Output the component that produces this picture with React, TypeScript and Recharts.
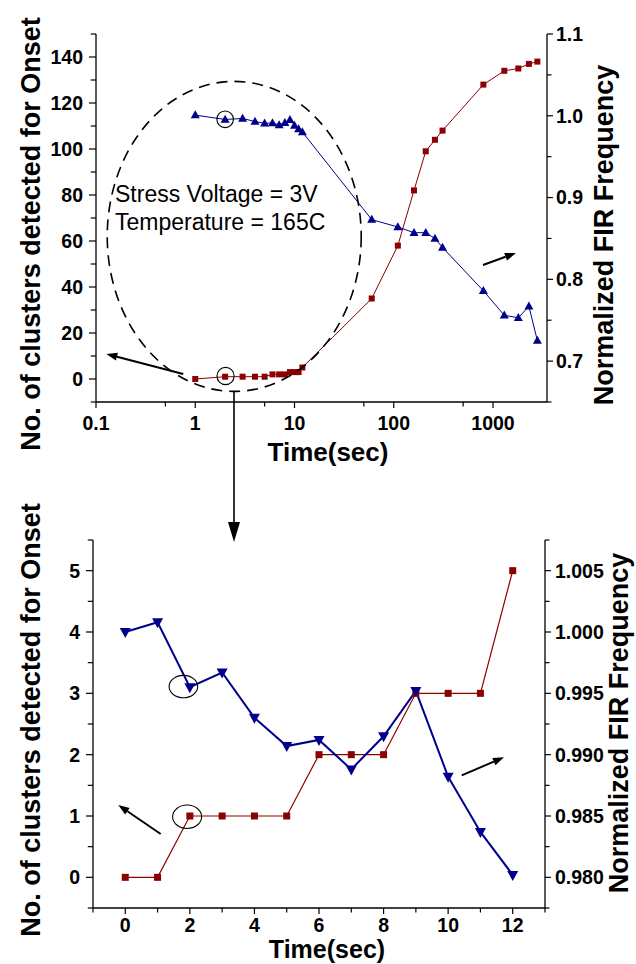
import { ComposedChart, Line, XAxis, YAxis, ReferenceDot, ReferenceLine } from 'recharts';

// first 13 s (also the zoomed bottom panel)
const earlyTime = [0, 1, 2, 3, 4, 5, 6, 7, 8, 9, 10, 11, 12];
const earlyClusters = [0, 0, 1, 1, 1, 1, 2, 2, 2, 3, 3, 3, 5];
const earlyFreq = [1.0, 1.0008, 0.9955, 0.9967, 0.993, 0.9907, 0.9912, 0.9888, 0.9915, 0.9952, 0.9882, 0.9837, 0.9802];

// long-time points, top panel only
const lateTime = [60, 110, 160, 210, 260, 310, 800, 1300, 1800, 2300, 2800];
const lateClusters = [35, 58, 82, 99, 104, 108, 128, 134, 135, 137, 138];
const lateFreq = [0.873, 0.864, 0.857, 0.857, 0.85, 0.839, 0.786, 0.756, 0.753, 0.767, 0.725];

const topXMajor = [0.1, 1, 10, 100, 1000];
const topXMinor = [0.5, 5, 50, 500];
const topLeftMajor = [0, 20, 40, 60, 80, 100, 120, 140];
const topLeftMinor = [-10, 10, 30, 50, 70, 90, 110, 130, 150];
const topRightMajor = [0.7, 0.8, 0.9, 1.0, 1.1];
const topRightMinor = [0.65, 0.75, 0.85, 0.95, 1.05];

const botXMajor = [0, 2, 4, 6, 8, 10, 12];
const botXMinor = [-1, 1, 3, 5, 7, 9, 11, 13];
const botLeftMajor = [0, 1, 2, 3, 4, 5];
const botLeftMinor = [-0.5, 0.5, 1.5, 2.5, 3.5, 4.5, 5.5];
const botRightMajor = [0.98, 0.985, 0.99, 0.995, 1.0, 1.005];
const botRightMinor = [0.9775, 0.9825, 0.9875, 0.9925, 0.9975, 1.0025, 1.0075];

const topData = [
  ...earlyTime.slice(1).map((t, i) => ({ t, clusters: earlyClusters[i + 1], freq: earlyFreq[i + 1] })),
  ...lateTime.map((t, i) => ({ t, clusters: lateClusters[i], freq: lateFreq[i] })),
];
const bottomData = earlyTime.map((t, i) => ({ t, clusters: earlyClusters[i], freq: earlyFreq[i] }));

const FONT = '"Liberation Sans", Arial, sans-serif';
const RED = '#8b0000';
const BLUE = '#00008b';
const axisStyle = { stroke: '#000', strokeWidth: 1.3 };

const sortNums = (a: number[], b: number[]) => [...a, ...b].sort((p, q) => p - q);
const isIn = (arr: number[], v: number) => arr.some((m) => Math.abs(m - v) < 1e-9);

function makeTick(side: 'left' | 'right' | 'bottom', major: number[], fmt: (v: number) => string, size: number, margin: number) {
  return (props: any) => {
    const { x, y, payload } = props;
    const v = payload.value;
    const isMajor = isIn(major, v);
    const len = isMajor ? size : size * 0.75;
    const txt = { fontFamily: FONT, fontWeight: 700, fontSize: 19.5, fill: '#000' };
    if (side === 'left') {
      const ax = x + margin + size;
      return (
        <g>
          <line x1={ax - len} x2={ax} y1={y} y2={y} stroke="#000" strokeWidth={1.2} />
          {isMajor && <text x={x} y={y} dy="0.355em" textAnchor="end" {...txt}>{fmt(v)}</text>}
        </g>
      );
    }
    if (side === 'right') {
      const ax = x - margin - size;
      return (
        <g>
          <line x1={ax} x2={ax + len} y1={y} y2={y} stroke="#000" strokeWidth={1.2} />
          {isMajor && <text x={x} y={y} dy="0.355em" textAnchor="start" {...txt}>{fmt(v)}</text>}
        </g>
      );
    }
    const ay = y - margin - size;
    return (
      <g>
        <line x1={x} x2={x} y1={ay} y2={ay + len} stroke="#000" strokeWidth={1.2} />
        {isMajor && <text x={x} y={y} dy="0.71em" textAnchor="middle" {...txt}>{fmt(v)}</text>}
      </g>
    );
  };
}

const squareDot = (s: number) => (p: any) => (
  <rect key={`sq-${p.index}`} x={p.cx - s / 2} y={p.cy - s / 2} width={s} height={s} fill={RED} />
);
const triUp = (w: number, h: number) => (p: any) => (
  <polygon
    key={`tu-${p.index}`}
    points={`${p.cx},${p.cy - h * 0.6} ${p.cx - w / 2},${p.cy + h * 0.4} ${p.cx + w / 2},${p.cy + h * 0.4}`}
    fill={BLUE}
  />
);
const triDown = (w: number, h: number) => (p: any) => (
  <polygon
    key={`td-${p.index}`}
    points={`${p.cx},${p.cy + h * 0.6} ${p.cx - w / 2},${p.cy - h * 0.4} ${p.cx + w / 2},${p.cy - h * 0.4}`}
    fill={BLUE}
  />
);

const arrowShape = (p: any) => {
  const { x1, y1, x2, y2 } = p;
  const a = Math.atan2(y2 - y1, x2 - x1);
  const L = 11;
  const W = 4;
  const bx = x2 - L * Math.cos(a);
  const by = y2 - L * Math.sin(a);
  const px = -Math.sin(a) * W;
  const py = Math.cos(a) * W;
  return (
    <g>
      <line x1={x1} y1={y1} x2={bx} y2={by} stroke="#000" strokeWidth={2} />
      <polygon points={`${x2},${y2} ${bx + px},${by + py} ${bx - px},${by - py}`} fill="#000" />
    </g>
  );
};

const ellipseShape = (rx: number, ry: number, dashed: boolean) => (p: any) => (
  <ellipse
    cx={p.cx}
    cy={p.cy}
    rx={rx}
    ry={ry}
    fill="none"
    stroke="#000"
    strokeWidth={dashed ? 1.6 : 1.1}
    strokeDasharray={dashed ? '11 7' : undefined}
  />
);

function TopChart() {
  return (
    <ComposedChart width={636} height={460} data={topData} margin={{ top: 34, right: 29, bottom: 0, left: 36 }}>
      <XAxis
        dataKey="t"
        type="number"
        scale="log"
        domain={[0.1, 3500]}
        allowDataOverflow
        ticks={sortNums(topXMajor, topXMinor)}
        interval={0}
        height={58}
        axisLine={axisStyle}
        tickLine={false}
        tickSize={6}
        tickMargin={8}
        tick={makeTick('bottom', topXMajor, (v) => String(v), 6, 8)}
      />
      <YAxis
        yAxisId="left"
        type="number"
        domain={[-10, 150]}
        allowDataOverflow
        ticks={sortNums(topLeftMajor, topLeftMinor)}
        interval={0}
        width={60}
        axisLine={axisStyle}
        tickLine={false}
        tickSize={7}
        tickMargin={6}
        tick={makeTick('left', topLeftMajor, (v) => String(v), 7, 6)}
      />
      <YAxis
        yAxisId="right"
        orientation="right"
        type="number"
        domain={[0.65, 1.1]}
        allowDataOverflow
        ticks={sortNums(topRightMajor, topRightMinor)}
        interval={0}
        width={60}
        axisLine={axisStyle}
        tickLine={false}
        tickSize={6}
        tickMargin={3}
        tick={makeTick('right', topRightMajor, (v) => v.toFixed(1), 6, 3)}
      />
      <Line yAxisId="left" dataKey="clusters" type="linear" stroke={RED} strokeWidth={1} dot={squareDot(6)} activeDot={false} isAnimationActive={false} />
      <Line yAxisId="right" dataKey="freq" type="linear" stroke={BLUE} strokeWidth={1} dot={triUp(9, 8)} activeDot={false} isAnimationActive={false} />
      <ReferenceDot yAxisId="left" x={2.47} y={62} ifOverflow="visible" shape={ellipseShape(127, 155, true)} />
      <ReferenceDot yAxisId="right" x={2} y={0.9957} ifOverflow="visible" shape={ellipseShape(8.3, 8.3, false)} />
      <ReferenceDot yAxisId="left" x={2.02} y={1.3} ifOverflow="visible" shape={ellipseShape(8.6, 8.6, false)} />
      <ReferenceLine yAxisId="left" segment={[{ x: 0.757, y: 2.2 }, { x: 0.127, y: 10.9 }]} ifOverflow="visible" shape={arrowShape} />
      <ReferenceLine yAxisId="right" segment={[{ x: 793, y: 0.8175 }, { x: 1703, y: 0.8322 }]} ifOverflow="visible" shape={arrowShape} />
    </ComposedChart>
  );
}

function BottomChart() {
  return (
    <ComposedChart width={636} height={484} data={bottomData} margin={{ top: 60, right: 31, bottom: 0, left: 33 }}>
      <XAxis
        dataKey="t"
        type="number"
        domain={[-1, 13]}
        allowDataOverflow
        ticks={sortNums(botXMajor, botXMinor)}
        interval={0}
        height={56}
        axisLine={axisStyle}
        tickLine={false}
        tickSize={6}
        tickMargin={4}
        tick={makeTick('bottom', botXMajor, (v) => String(v), 6, 4)}
      />
      <YAxis
        yAxisId="left"
        type="number"
        domain={[-0.5, 5.5]}
        allowDataOverflow
        ticks={sortNums(botLeftMajor, botLeftMinor)}
        interval={0}
        width={60}
        axisLine={axisStyle}
        tickLine={false}
        tickSize={7}
        tickMargin={6}
        tick={makeTick('left', botLeftMajor, (v) => String(v), 7, 6)}
      />
      <YAxis
        yAxisId="right"
        orientation="right"
        type="number"
        domain={[0.9775, 1.0075]}
        allowDataOverflow
        ticks={sortNums(botRightMajor, botRightMinor)}
        interval={0}
        width={60}
        axisLine={axisStyle}
        tickLine={false}
        tickSize={6}
        tickMargin={4}
        tick={makeTick('right', botRightMajor, (v) => v.toFixed(3), 6, 4)}
      />
      <Line yAxisId="left" dataKey="clusters" type="linear" stroke={RED} strokeWidth={1.2} dot={squareDot(7)} activeDot={false} isAnimationActive={false} />
      <Line yAxisId="right" dataKey="freq" type="linear" stroke={BLUE} strokeWidth={2} dot={triDown(11, 10)} activeDot={false} isAnimationActive={false} />
      <ReferenceDot yAxisId="left" x={1.8} y={3.11} ifOverflow="visible" shape={ellipseShape(14.3, 11.2, false)} />
      <ReferenceDot yAxisId="left" x={1.915} y={0.988} ifOverflow="visible" shape={ellipseShape(14.5, 11.7, false)} />
      <ReferenceLine yAxisId="left" segment={[{ x: 1.097, y: 0.706 }, { x: -0.216, y: 1.179 }]} ifOverflow="visible" shape={arrowShape} />
      <ReferenceLine yAxisId="left" segment={[{ x: 10.42, y: 1.663 }, { x: 11.73, y: 1.957 }]} ifOverflow="visible" shape={arrowShape} />
    </ComposedChart>
  );
}

export default function App() {
  const title = { fontFamily: FONT, fontWeight: 700, fontSize: 27, fill: '#000' };
  const note = { fontFamily: FONT, fontWeight: 400, fontSize: 23, fill: '#000' };
  return (
    <div style={{ position: 'absolute', left: 0, top: 0, width: 636, height: 964, background: '#fff' }}>
      <div style={{ position: 'absolute', left: 0, top: 0 }}>
        <TopChart />
      </div>
      <div style={{ position: 'absolute', left: 0, top: 480 }}>
        <BottomChart />
      </div>
      <svg width={636} height={964} style={{ position: 'absolute', left: 0, top: 0, pointerEvents: 'none' }}>
        <text x={31} y={234} transform="rotate(-90 31 234)" textAnchor="middle" dominantBaseline="central" {...title}>
          No. of clusters detected for Onset
        </text>
        <text x={604} y={235} transform="rotate(-90 604 235)" textAnchor="middle" dominantBaseline="central" {...title}>
          Normalized FIR Frequency
        </text>
        <text x={328} y={461} textAnchor="middle" {...title} fontSize={26}>Time(sec)</text>
        <text x={115} y={202} {...note}>Stress Voltage = 3V</text>
        <text x={115} y={230} {...note}>Temperature = 165C</text>
        <line x1={234} y1={392} x2={234} y2={524} stroke="#000" strokeWidth={1.6} />
        <polygon points="228,522 240,522 234,542" fill="#000" />
        <text x={31} y={720} transform="rotate(-90 31 720)" textAnchor="middle" dominantBaseline="central" {...title}>
          No. of clusters detected for Onset
        </text>
        <text x={619} y={723} transform="rotate(-90 619 723)" textAnchor="middle" dominantBaseline="central" {...title}>
          Normalized FIR Frequency
        </text>
        <text x={327} y={958} textAnchor="middle" {...title} fontSize={25}>Time(sec)</text>
      </svg>
    </div>
  );
}
